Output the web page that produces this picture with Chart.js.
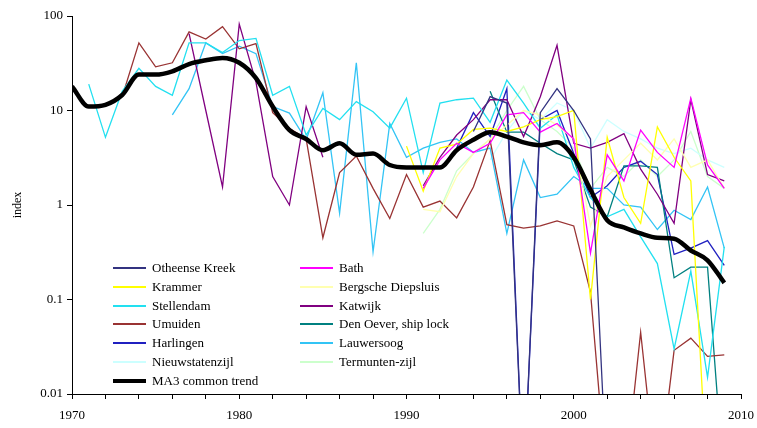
<!DOCTYPE html>
<html>
<head>
<meta charset="utf-8">
<script src="https://cdn.jsdelivr.net/npm/chart.js@4.4.1/dist/chart.umd.min.js"></script>
<style>
  body { margin: 0; background: #fff; }
  #wrap { position: relative; width: 757px; height: 428px; }
  #legend { position: absolute; left: 0; top: 0; font-family: "Liberation Serif", serif; font-size: 13px; color: #000; }
  .item { position: absolute; height: 16px; line-height: 16px; white-space: nowrap; }
  .item span.sw { position: absolute; left: 0; width: 33px; }
  .item span.tx { position: absolute; left: 39px; }
</style>
</head>
<body>
<div id="wrap">
  <canvas id="chart" width="757" height="428"></canvas>
  <div id="legend"></div>
</div>
<script>
// years 1970 - 2009
const years = []
for (let y = 1970; y <= 2009; y++) years.push(y)

const xTicks = [1970, 1980, 1990, 2000, 2010]
const yTicks = [0.01, 0.1, 1, 10, 100]

// values, null = no data, 0.001 = dropped below the axis
const otheenseKreek = [null,null,null,null,null,null,null,null,null,null, null,null,null,null,null,null,null,null,null,null,
  null,null,null,null,6,14,12,0.001,9.5,17, 10,5,0.001,null,null,null,null,null,null,null]
const bath = [null,null,null,null,null,null,null,null,null,null, null,null,null,null,null,null,null,null,null,null,
  null,1.5,3.0,4.5,3.6,4.5,9,9.5,5.9,7.3, 5,0.31,3.4,1.8,6.2,3.6,2.5,13.5,2.65,1.5]
const krammer = [null,null,null,null,null,null,null,null,null,null, null,null,null,null,null,null,null,null,null,null,
  4.2,1.4,4.0,4.4,6.3,6.5,6,6.7,8,8.6, 10,0.1,5.2,1.2,0.64,6.7,3.2,1.8,0.001,null]
const bergscheDiepsluis = [null,null,null,null,null,null,null,null,null,null, null,null,null,null,null,null,null,null,null,null,
  null,0.9,0.85,2,3.5,5,7,10,9,7, 5,0.6,2,3,4.5,3,5,2.5,3,1.5]
const stellendam = [null,19,5.2,16,28,18,14.5,52,52,41, 55,58,14.5,18,5.5,10.5,8,12.4,9.7,6.5,
  13.5,2.2,12,13,13.5,7.5,21,12,6.5,9, 2.5,1.2,0.75,0.9,0.46,0.24,0.03,0.2,0.015,0.36]
const katwijk = [null,null,null,null,null,null,null,65,10,1.55, 82,20,2.0,1.0,11,3.2,null,null,null,null,
  null,1.6,3.2,5.5,8,13,13,5.3,14,49, 4.5,4.0,4.6,5.7,2.4,1.3,0.64,13,2.1,1.8]
const ijmuiden = [null,null,null,14,52,29,32,68,57,77, 45,51,9.5,6.5,5,0.45,2.2,3.3,1.5,0.72,
  2.1,0.95,1.1,0.73,1.55,4.8,0.62,0.57,0.6,0.68, 0.6,0.12,0.001,0.001,0.045,0.001,0.029,0.039,0.025,0.026]
const denOever = [null,null,null,null,null,null,null,null,null,null, null,null,null,null,null,null,null,null,null,null,
  null,null,null,null,null,16,5.9,5.9,4.5,3.5, 3.0,0.95,0.75,2.6,2.6,2.5,0.17,0.22,0.22,0.001]
const harlingen = [null,null,null,null,null,null,null,null,null,null, null,null,null,null,null,null,null,null,null,null,
  null,null,null,4,9.5,5.3,17,0.001,8,10, 3.5,1.2,1.6,2.5,2.9,2.1,0.3,0.35,0.42,0.23]
const lauwersoog = [null,null,null,null,null,null,9,17,52,40, 48,40,11,9.4,4.9,15.4,0.82,32,0.32,7.3,
  3.2,4,4.6,5,3.6,4,0.5,3,1.2,1.3, 2.0,1.5,1.5,1.0,0.95,0.55,0.88,0.7,1.55,0.35]
const nieuwstatenzijl = [null,null,null,null,null,null,null,null,null,null, null,null,null,null,null,null,null,null,null,null,
  null,null,null,null,null,3,6,10,8,12, 10,4,8,6,5,4,3.5,4,3,2.5]
const termuntenZijl = [null,null,null,null,null,null,null,null,null,null, null,null,null,null,null,null,null,null,null,null,
  null,0.5,0.9,2.3,3.5,5,10,18,8,6, 4,1.5,2.5,2,3,2,3,6,2,1.5]
const ma3Trend = [18,11,11.5,14.6,24,24,26,31,34,36, 32,22,11,6.2,5,3.8,4.5,3.4,3.5,2.65,
  2.5,2.5,2.5,3.8,4.9,5.9,5.3,4.6,4.3,4.6, 3.2,1.45,0.69,0.58,0.5,0.45,0.44,0.33,0.26,0.15]

const seriesNames = ['Otheense Kreek', 'Bath', 'Krammer', 'Bergsche Diepsluis', 'Stellendam', 'Katwijk',
  'Umuiden', 'Den Oever, ship lock', 'Harlingen', 'Lauwersoog', 'Nieuwstatenzijl', 'Termunten-zijl', 'MA3 common trend']
const seriesValues = [otheenseKreek, bath, krammer, bergscheDiepsluis, stellendam, katwijk,
  ijmuiden, denOever, harlingen, lauwersoog, nieuwstatenzijl, termuntenZijl, ma3Trend]
const seriesColors = ['#333380', '#ff00ff', '#ffff00', '#ffffb0', '#22e0f0', '#800080',
  '#993333', '#008080', '#2020c0', '#33c4f5', '#ccffff', '#ccffcc', '#000000']

function toPoints(vals) {
  return years.map((y, i) => ({x: y, y: vals[i]}))
}

const datasets = seriesNames.map((name, i) => {
  const isTrend = i === seriesNames.length - 1
  return {
    label: name,
    data: toPoints(seriesValues[i]),
    borderColor: seriesColors[i],
    backgroundColor: seriesColors[i],
    borderWidth: isTrend ? 4.5 : 1.3,
    pointRadius: 0,
    tension: isTrend ? 0.4 : 0,
    cubicInterpolationMode: isTrend ? 'monotone' : 'default',
    spanGaps: false,
    order: isTrend ? 0 : 1
  }
})

const serif = {family: '"Liberation Serif", "Times New Roman", serif', size: 13}

new Chart(document.getElementById('chart'), {
  type: 'line',
  data: {datasets: datasets},
  options: {
    responsive: false,
    animation: false,
    layout: {padding: {top: 16, right: 16, left: 11, bottom: 0}},
    plugins: {legend: {display: false}, tooltip: {enabled: false}},
    scales: {
      x: {
        type: 'linear',
        min: 1970,
        max: 2010,
        border: {color: '#000', width: 1},
        grid: {drawOnChartArea: false, color: '#000', tickLength: 5},
        ticks: {
          stepSize: 2,
          autoSkip: false,
          maxRotation: 0,
          color: '#000',
          font: serif,
          padding: 9,
          callback: (v) => xTicks.includes(v) ? String(v) : ''
        },
        afterFit: (s) => { s.height = 34; s.paddingLeft = 0; s.paddingRight = 0 }
      },
      y: {
        type: 'logarithmic',
        min: 0.01,
        max: 100,
        border: {color: '#000', width: 1},
        grid: {drawOnChartArea: false, color: '#000', tickLength: 5},
        title: {display: true, text: 'index', color: '#000', font: {family: serif.family, size: 12}, padding: 0},
        ticks: {color: '#000', font: serif, padding: 4, callback: (v) => String(v)},
        afterBuildTicks: (s) => { s.ticks = yTicks.map(v => ({value: v})) },
        afterFit: (s) => { s.width = 61 }
      }
    }
  }
})

// legend inside the plot, two columns
const legend = document.getElementById('legend')
seriesNames.forEach((name, i) => {
  const col = i === seriesNames.length - 1 ? 0 : i % 2
  const row = i === seriesNames.length - 1 ? 6 : Math.floor(i / 2)
  const item = document.createElement('div')
  item.className = 'item'
  item.style.left = (col === 0 ? 113 : 300) + 'px'
  item.style.top = (260 + row * 18.8) + 'px'
  const sw = document.createElement('span')
  sw.className = 'sw'
  const w = i === seriesNames.length - 1 ? 4.5 : 2
  sw.style.top = (8 - w / 2) + 'px'
  sw.style.borderTop = w + 'px solid ' + seriesColors[i]
  const tx = document.createElement('span')
  tx.className = 'tx'
  tx.textContent = name
  item.appendChild(sw)
  item.appendChild(tx)
  legend.appendChild(item)
})
</script>
</body>
</html>
